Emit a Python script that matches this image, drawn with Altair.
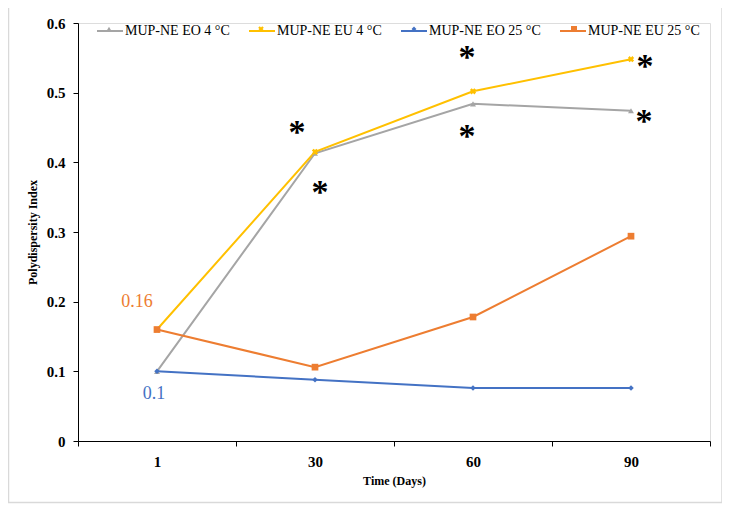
import altair as alt
import pandas as pd

days = ["1", "30", "60", "90"]
series = ["MUP-NE EO 4 °C", "MUP-NE EU 4 °C", "MUP-NE EO 25 °C", "MUP-NE EU 25 °C"]
eo_4 = [0.100, 0.413, 0.484, 0.474]
eu_4 = [0.160, 0.415, 0.502, 0.548]
eo_25 = [0.100, 0.088, 0.076, 0.076]
eu_25 = [0.160, 0.106, 0.178, 0.294]
colors = ["#A5A5A5", "#FFC000", "#4472C4", "#ED7D31"]
shapes = ["triangle-up", "cross", "diamond", "square"]
angles = [0, 45, 0, 0]
sizes = [35, 40, 30, 45]

# annotations
ann_text = ["0.16", "0.1"]
ann_day = ["1", "1"]
ann_y = [0.160, 0.100]
ann_color = ["#ED7D31", "#4472C4"]

ast_day = ["30", "30", "60", "60", "90", "90"]
ast_y = [0.456, 0.370, 0.564, 0.451, 0.551, 0.472]
ast_dx = [-18, 5, -6, -6, 14, 13]

rows = []
for s, vals, c, sh, sz, an in zip(series, [eo_4, eu_4, eo_25, eu_25], colors, shapes, sizes, angles):
    for d, v in zip(days, vals):
        rows.append({"Day": d, "Series": s, "PDI": v, "col": c, "shp": sh, "sz": sz, "ang": an})
df = pd.DataFrame(rows)

FONT = "Liberation Serif"

x_enc = alt.X("Day:O", sort=days,
              scale=alt.Scale(domain=days, paddingInner=0, paddingOuter=0),
              axis=alt.Axis(title="Time (Days)", labelAngle=0, tickBand="extent",
                            labelFontSize=15, labelFontWeight="bold", labelFont=FONT,
                            titleFontSize=12, titleFontWeight="bold", titleFont=FONT,
                            titlePadding=6, labelPadding=8, tickSize=5,
                            domainColor="black", tickColor="black", labelColor="black",
                            titleColor="black"))
y_enc = alt.Y("PDI:Q",
              scale=alt.Scale(domain=[0, 0.6], nice=False),
              axis=alt.Axis(title="Polydispersity Index", values=[0, 0.1, 0.2, 0.3, 0.4, 0.5, 0.6],
                            format=".1~f", grid=False,
                            labelFontSize=15, labelFontWeight="bold", labelFont=FONT,
                            titleFontSize=12, titleFontWeight="bold", titleFont=FONT,
                            titlePadding=7, labelPadding=8, tickSize=5,
                            domainColor="black", tickColor="black", labelColor="black",
                            titleColor="black"))

color_enc = alt.Color("Series:N", sort=series,
                      scale=alt.Scale(domain=series, range=colors),
                      legend=alt.Legend(title=None, orient="none", direction="horizontal",
                                        legendX=18, legendY=-6, columns=4,
                                        symbolType="stroke", symbolSize=676,
                                        symbolStrokeWidth=2, labelFont=FONT,
                                        labelFontSize=14, labelColor="black",
                                        columnPadding=15, labelOffset=1))

lines = alt.Chart(df).mark_line(strokeWidth=2).encode(x=x_enc, y=y_enc, color=color_enc)

points = alt.Chart(df).mark_point(filled=True, opacity=1).encode(
    x=alt.X("Day:O", sort=days),
    y="PDI:Q",
    fill=alt.Fill("col:N", scale=None),
    shape=alt.Shape("shp:N", scale=None),
    size=alt.Size("sz:Q", scale=None),
    angle=alt.Angle("ang:Q", scale=None),
)

ann_df = pd.DataFrame({"Day": ann_day, "PDI": ann_y, "txt": ann_text, "c": ann_color})
ann = alt.Chart(ann_df).mark_text(font=FONT, fontSize=18, align="center", baseline="middle").encode(
    x=alt.X("Day:O", sort=days), y="PDI:Q", text="txt:N",
    color=alt.Color("c:N", scale=None))
ann016 = ann.transform_filter(alt.datum.txt == "0.16").mark_text(
    font=FONT, fontSize=18, align="center", baseline="middle", dx=-20, dy=-28)
ann01 = ann.transform_filter(alt.datum.txt == "0.1").mark_text(
    font=FONT, fontSize=18, align="center", baseline="middle", dx=-3, dy=23)

ast_layers = []
for d, yv, dx in zip(ast_day, ast_y, ast_dx):
    ast_layers.append(
        alt.Chart(pd.DataFrame({"Day": [d], "PDI": [yv]})).mark_text(
            text="*", font=FONT, fontSize=34, fontWeight="bold", color="black",
            align="center", baseline="middle", dx=dx, dy=10
        ).encode(x=alt.X("Day:O", sort=days), y="PDI:Q")
    )

# small markers drawn on the legend lines (decoration)
leg_x = [31, 183, 336, 496]
leg_layers = []
for lx, c, sh, sz, an in zip(leg_x, colors, shapes, sizes, angles):
    leg_layers.append(
        alt.Chart(pd.DataFrame({"a": [0]})).mark_point(
            filled=True, opacity=1, fill=c, shape=sh, size=sz * 0.8, strokeWidth=0, angle=an
        ).encode(x=alt.value(lx), y=alt.value(6))
    )

border = alt.Chart(pd.DataFrame({"a": [0]})).mark_rect(
    fill=None, stroke="#D9D9D9", strokeWidth=1.5
).encode(x=alt.value(-69.5), x2=alt.value(644), y=alt.value(-16.5), y2=alt.value(479.5))

chart = alt.layer(border, lines, points, ann016, ann01, *ast_layers, *leg_layers).properties(
    width=632, height=418,
    autosize=alt.AutoSizeParams(type="none"),
    padding={"left": 70, "top": 15, "right": 12, "bottom": 63},
).configure_view(stroke=None).configure(background="white")

chart.save("out.html", embed_options={"renderer": "svg", "actions": False})
